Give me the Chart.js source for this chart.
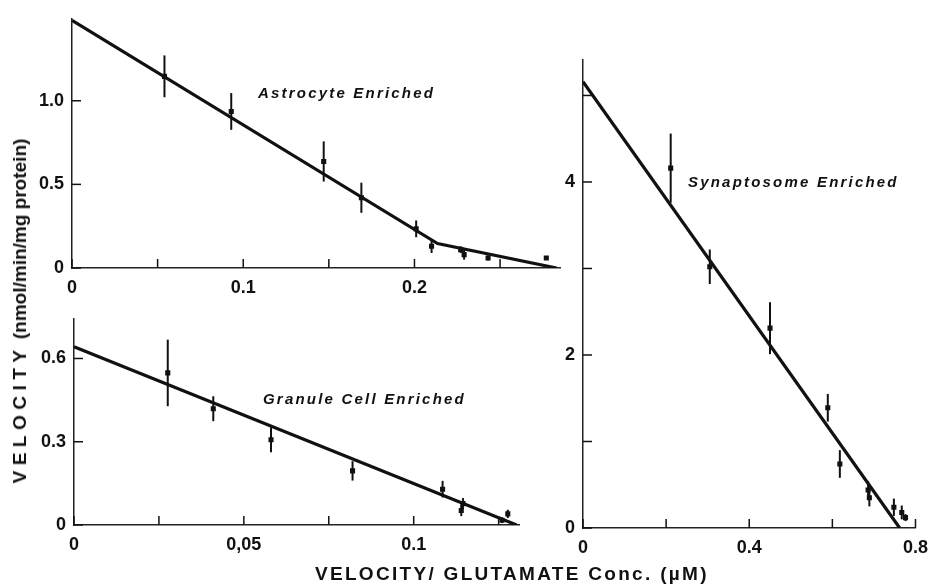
<!DOCTYPE html>
<html>
<head>
<meta charset="utf-8">
<script src="https://cdn.jsdelivr.net/npm/chart.js@4"></script>
<style>
  body { margin: 0; background: #fff; width: 937px; height: 586px; position: relative; overflow: hidden; font-family: "Liberation Sans", Arial, sans-serif; color: #111; }
  canvas { position: absolute; }
  .note { position: absolute; font-style: italic; font-weight: bold; font-size: 15px; letter-spacing: 2.2px; white-space: nowrap; }
  .title { position: absolute; font-weight: bold; font-size: 19px; white-space: nowrap; }
</style>
</head>
<body>
<canvas id="astroChart" width="560" height="300" style="left:20px;top:0px"></canvas>
<canvas id="granuleChart" width="520" height="260" style="left:20px;top:300px"></canvas>
<canvas id="synChart" width="407" height="586" style="left:530px;top:0px"></canvas>

<div class="note" style="left:258px;top:84px">Astrocyte Enriched</div>
<div class="note" style="left:263px;top:390px">Granule Cell Enriched</div>
<div class="note" style="left:688px;top:173px">Synaptosome Enriched</div>

<div class="title" style="left:315px;top:563px;letter-spacing:2.3px">VELOCITY/ GLUTAMATE Conc. (µM)</div>
<div class="title" style="left:20px;top:311px;transform:translate(-50%,-50%) rotate(-90deg)"><span style="letter-spacing:5.5px">VELOCITY</span> (nmol/min/mg protein)</div>

<script>
// Astrocyte enriched
const astroX = [0.054, 0.093, 0.147, 0.169, 0.201, 0.210, 0.227, 0.229, 0.243, 0.277];
const astroY = [1.146, 0.936, 0.637, 0.420, 0.234, 0.130, 0.110, 0.080, 0.060, 0.060];
const astroErr = [0.125, 0.11, 0.12, 0.09, 0.05, 0.04, 0.02, 0.03, 0.015, 0];
const astroFitX = [0, 0.2135, 0.283];
const astroFitY = [1.48, 0.146, 0];
const astroXTicks = [0, 0.05, 0.1, 0.15, 0.2, 0.25];
const astroXLabels = ['0', '', '0.1', '', '0.2', ''];
const astroYTicks = [0, 0.5, 1.0];
const astroYLabels = ['0', '0.5', '1.0'];

// Granule cell enriched
const granX = [0.0276, 0.041, 0.058, 0.082, 0.1085, 0.1145, 0.114, 0.126, 0.1277];
const granY = [0.548, 0.419, 0.307, 0.195, 0.129, 0.077, 0.052, 0.017, 0.040];
const granErr = [0.12, 0.045, 0.045, 0.035, 0.03, 0.02, 0.02, 0.01, 0.015];
const granFitX = [0, 0.1303];
const granFitY = [0.642, 0];
const granXTicks = [0, 0.025, 0.05, 0.075, 0.1, 0.125];
const granXLabels = ['0', '', '0,05', '', '0.1', ''];
const granYTicks = [0, 0.3, 0.6];
const granYLabels = ['0', '0.3', '0.6'];

// Synaptosome enriched
const synX = [0.211, 0.305, 0.450, 0.589, 0.618, 0.686, 0.689, 0.748, 0.767, 0.776];
const synY = [4.16, 3.02, 2.31, 1.39, 0.74, 0.44, 0.35, 0.24, 0.18, 0.12];
const synErr = [0.4, 0.2, 0.3, 0.16, 0.16, 0.1, 0.1, 0.1, 0.08, 0.04];
const synFitX = [0, 0.762];
const synFitY = [5.16, 0];
const synXTicks = [0, 0.2, 0.4, 0.6, 0.8];
const synXLabels = ['0', '', '0.4', '', '0.8'];
const synYTicks = [0, 1, 2, 3, 4, 5];
const synYLabels = ['0', '', '2', '', '4', ''];

Chart.defaults.font.family = '"Liberation Sans", Arial, sans-serif';
Chart.defaults.color = '#111';

// error bars and inward tick marks
const extras = {
    id: 'extras',
    afterDatasetsDraw(chart, args, opts) {
        const ctx = chart.ctx;
        const xs = chart.scales.x, ys = chart.scales.y;
        ctx.save();
        ctx.strokeStyle = '#111';
        ctx.lineWidth = 2;
        opts.err.forEach((e, i) => {
            if (!e) return;
            const px = xs.getPixelForValue(opts.xs[i]);
            ctx.beginPath();
            ctx.moveTo(px, ys.getPixelForValue(opts.ys[i] - e));
            ctx.lineTo(px, ys.getPixelForValue(opts.ys[i] + e));
            ctx.stroke();
        });
        ctx.lineWidth = 1.5;
        xs.ticks.forEach(t => {
            const px = xs.getPixelForValue(t.value);
            ctx.beginPath();
            ctx.moveTo(px, ys.bottom);
            ctx.lineTo(px, ys.bottom - 9);
            ctx.stroke();
        });
        ys.ticks.forEach(t => {
            const py = ys.getPixelForValue(t.value);
            ctx.beginPath();
            ctx.moveTo(xs.left, py);
            ctx.lineTo(xs.left + 9, py);
            ctx.stroke();
        });
        ctx.restore();
    }
};

function pts(xs, ys) {
    return xs.map((v, i) => ({ x: v, y: ys[i] }));
}

function makePanel(id, cfg) {
    new Chart(document.getElementById(id), {
        type: 'scatter',
        data: {
            datasets: [
                {
                    data: pts(cfg.fitX, cfg.fitY),
                    showLine: true,
                    borderColor: '#111',
                    borderWidth: 3.2,
                    pointRadius: 0
                },
                {
                    data: pts(cfg.x, cfg.y),
                    pointStyle: 'rect',
                    pointRadius: 3.6,
                    backgroundColor: '#111',
                    borderColor: '#111',
                    borderWidth: 0
                }
            ]
        },
        options: {
            responsive: false,
            animation: false,
            layout: { padding: cfg.padding },
            plugins: {
                legend: { display: false },
                tooltip: { enabled: false },
                extras: { xs: cfg.x, ys: cfg.y, err: cfg.err }
            },
            scales: {
                x: {
                    type: 'linear',
                    min: 0,
                    max: cfg.xMax,
                    grid: { display: false, drawTicks: false },
                    border: { display: true, color: '#222', width: 1.5 },
                    afterBuildTicks: s => { s.ticks = cfg.xTicks.map(v => ({ value: v })); },
                    afterFit: s => { s.height = cfg.xH; },
                    ticks: {
                        autoSkip: false,
                        maxRotation: 0,
                        padding: 9,
                        font: { size: 18, weight: 'bold' },
                        callback: (v, i) => cfg.xLabels[i]
                    }
                },
                y: {
                    type: 'linear',
                    min: 0,
                    max: cfg.yMax,
                    grid: { display: false, drawTicks: false },
                    border: { display: true, color: '#222', width: 1.5 },
                    afterBuildTicks: s => { s.ticks = cfg.yTicks.map(v => ({ value: v })); },
                    afterFit: s => { s.width = cfg.yW; },
                    ticks: {
                        autoSkip: false,
                        padding: 8,
                        font: { size: 18, weight: 'bold' },
                        callback: (v, i) => cfg.yLabels[i]
                    }
                }
            }
        },
        plugins: [extras]
    });
}

makePanel('astroChart', {
    x: astroX, y: astroY, err: astroErr, fitX: astroFitX, fitY: astroFitY,
    xTicks: astroXTicks, xLabels: astroXLabels, yTicks: astroYTicks, yLabels: astroYLabels,
    xMax: 0.285, yMax: 1.49, xH: 32, yW: 52,
    padding: { top: 13, right: 20, left: 0, bottom: 0 }
});

makePanel('granuleChart', {
    x: granX, y: granY, err: granErr, fitX: granFitX, fitY: granFitY,
    xTicks: granXTicks, xLabels: granXLabels, yTicks: granYTicks, yLabels: granYLabels,
    xMax: 0.131, yMax: 0.743, xH: 35, yW: 54,
    padding: { top: 12, right: 21, left: 0, bottom: 0 }
});

makePanel('synChart', {
    x: synX, y: synY, err: synErr, fitX: synFitX, fitY: synFitY,
    xTicks: synXTicks, xLabels: synXLabels, yTicks: synYTicks, yLabels: synYLabels,
    xMax: 0.8, yMax: 5.41, xH: 58, yW: 53,
    padding: { top: 60, right: 15, left: 0, bottom: 0 }
});
</script>
</body>
</html>
